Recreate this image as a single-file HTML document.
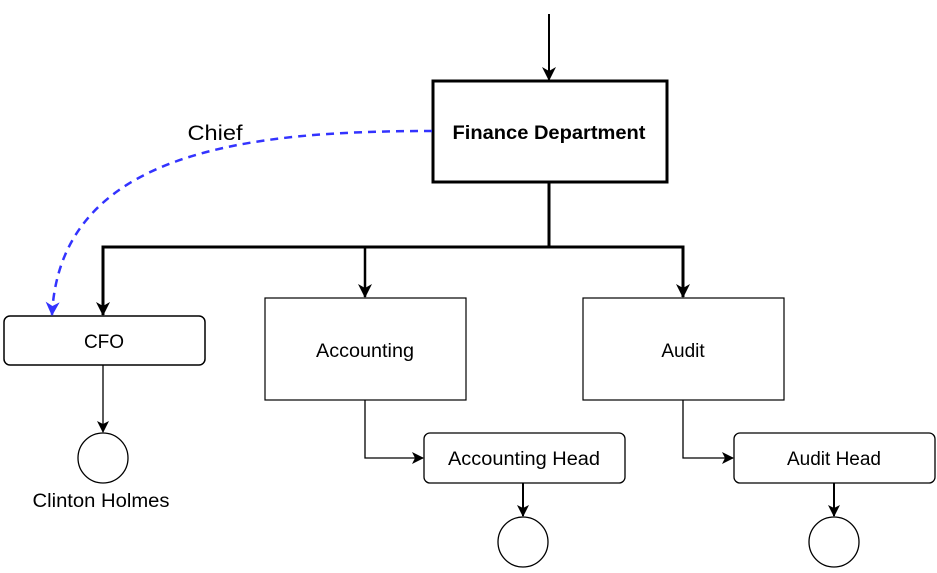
<!DOCTYPE html>
<html><head><style>
html,body{margin:0;padding:0;background:#fff;}
svg text{font-family:"Liberation Sans",Arial,sans-serif;}
</style></head><body>
<svg width="937" height="568" viewBox="0 0 937 568" xmlns="http://www.w3.org/2000/svg">
<defs>
<marker id="a" markerWidth="12" markerHeight="12" refX="11" refY="6" orient="auto" markerUnits="userSpaceOnUse"><path d="M0,0 L12,6 L0,12 L3,6 Z" fill="#000"/></marker>
<marker id="al" markerWidth="14" markerHeight="14" refX="13" refY="7" orient="auto" markerUnits="userSpaceOnUse"><path d="M0,0 L14,7 L0,14 L4,7 Z" fill="#000"/></marker>
<marker id="ab" markerWidth="14" markerHeight="14" refX="13" refY="7" orient="auto" markerUnits="userSpaceOnUse"><path d="M0,0 L14,7 L0,14 L4,7 Z" fill="#3333ff"/></marker>
</defs>
<g fill="none" stroke="#000">
<line x1="549" y1="14" x2="549" y2="80" stroke-width="2" marker-end="url(#al)"/>
<rect x="433" y="81" width="234" height="101" stroke-width="3" fill="#fff"/>
<polyline points="549,182 549,247" stroke-width="3"/>
<polyline points="103,315 103,247 683,247 683,297" stroke-width="3" fill="none" marker-end="url(#al)"/>
<polyline points="365,247 365,297" stroke-width="2.5" marker-end="url(#al)"/>
<line x1="103" y1="300" x2="103" y2="315" stroke-width="3" marker-end="url(#al)"/>
<rect x="4" y="316" width="201" height="49" rx="6" stroke-width="1.5" fill="#fff"/>
<rect x="265" y="298" width="201" height="102" stroke-width="1.2" fill="#fff"/>
<rect x="583" y="298" width="201" height="102" stroke-width="1.2" fill="#fff"/>
<line x1="103" y1="365" x2="103" y2="432" stroke-width="1.3" marker-end="url(#a)"/>
<circle cx="103" cy="458" r="25" stroke-width="1.3"/>
<rect x="424" y="433" width="201" height="50" rx="6" stroke-width="1.3" fill="#fff"/>
<rect x="734" y="433" width="201" height="50" rx="6" stroke-width="1.3" fill="#fff"/>
<polyline points="365,400 365,458 423,458" stroke-width="1.3" marker-end="url(#a)"/>
<polyline points="683,400 683,458 733,458" stroke-width="1.3" marker-end="url(#a)"/>
<line x1="523" y1="483" x2="523" y2="516" stroke-width="2" marker-end="url(#a)"/>
<line x1="834" y1="483" x2="834" y2="516" stroke-width="2" marker-end="url(#a)"/>
<circle cx="523" cy="542" r="25" stroke-width="1.3"/>
<circle cx="834" cy="542" r="25" stroke-width="1.3"/>
<path d="M432,131 C250,131 60,150 52,315" stroke="#3333ff" stroke-width="2.5" stroke-dasharray="8,6" marker-end="url(#ab)"/>
</g>
<g fill="#000" text-anchor="middle">
<text x="549" y="139" font-size="19.5" font-weight="bold" textLength="193" lengthAdjust="spacingAndGlyphs">Finance Department</text>
<text x="215" y="140" font-size="21" textLength="55" lengthAdjust="spacingAndGlyphs">Chief</text>
<text x="104" y="348" font-size="19">CFO</text>
<text x="365" y="357" font-size="19" textLength="98" lengthAdjust="spacingAndGlyphs">Accounting</text>
<text x="683" y="357" font-size="19">Audit</text>
<text x="524" y="465" font-size="19" textLength="152" lengthAdjust="spacingAndGlyphs">Accounting Head</text>
<text x="834" y="465" font-size="19">Audit Head</text>
<text x="101" y="507" font-size="19" textLength="137" lengthAdjust="spacingAndGlyphs">Clinton Holmes</text>
</g>
</svg>
</body></html>
